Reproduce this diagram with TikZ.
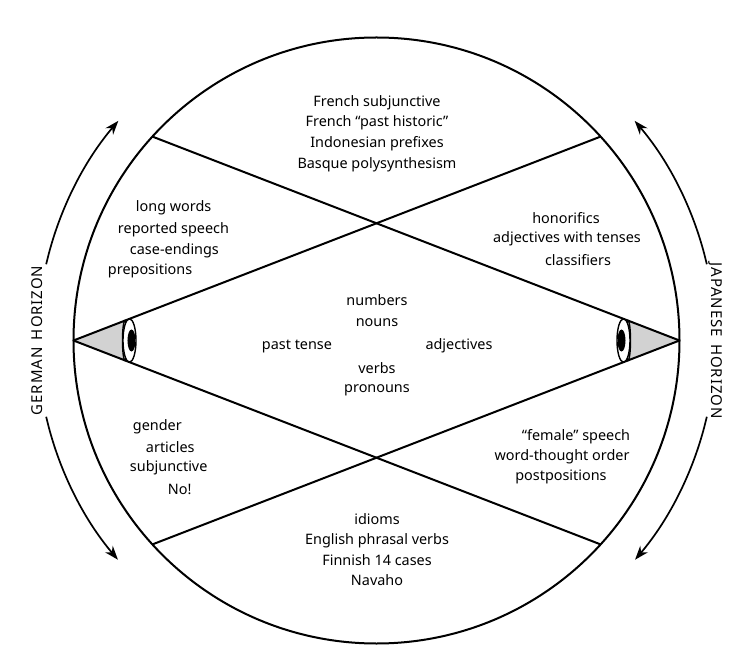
\documentclass[tikz,border=0pt]{standalone}
\usepackage{fontspec}
\setmainfont{Noto Sans}
\usetikzlibrary{arrows.meta}

\tikzset{
  word/.style={inner sep=0pt, font=\fontsize{14.4}{20.6}\selectfont},
  block/.style={word, align=center},
  horizon/.style={-{Stealth[length=14pt,width=10pt]}, line width=1.7pt},
  cone/.style={fill=gray!35},
}

\begin{document}
\begin{tikzpicture}[x=1pt, y=1pt, line width=2pt]
\useasboundingbox (-376.5,-328.5) rectangle (372.5,340.5);
\coordinate (eyeL) at (180:303);
\coordinate (eyeR) at (0:303);
\coordinate (ul) at (137.7:303);
\coordinate (ur) at (42.3:303);
\coordinate (ll) at (222.3:303);
\coordinate (lr) at (-42.3:303);
% cones of sight
\fill[cone] (eyeL) -- (-251.5,19.9) -- (-251.5,-19.9) -- cycle;
\fill[cone] (eyeR) -- (251.5,19.9) -- (251.5,-19.9) -- cycle;
\draw (0,0) circle (303);
\draw (eyeL) -- (ur);
\draw (eyeL) -- (lr);
\draw (eyeR) -- (ul);
\draw (eyeR) -- (ll);
% eyes
\draw[cone, line width=1.4pt] (-251.5,0) ellipse (2.5 and 19.9);
\draw[fill=white, line width=1.4pt] (-247,0) ellipse (6.5 and 21.7);
\fill (-245,0) ellipse (4 and 11);
\draw[cone, line width=1.4pt] (251.5,0) ellipse (2.5 and 19.9);
\draw[fill=white, line width=1.4pt] (247,0) ellipse (6.5 and 21.7);
\fill (245,0) ellipse (4 and 11);
% horizons
\draw[horizon] (167:339) arc[start angle=167, end angle=139.6, radius=339];
\draw[horizon] (193:339) arc[start angle=193, end angle=220.3, radius=339];
\draw[horizon] (13:339) arc[start angle=13, end angle=40.4, radius=339];
\draw[horizon] (-13:339) arc[start angle=-13, end angle=-40.3, radius=339];
\node[word, rotate=90] (german) at (-339,0) {\addfontfeature{LetterSpace=6}\fontsize{15}{18}\selectfont GERMAN\hspace{0.5em}HORIZON};
\node[word, rotate=-90] (japanese) at (339,0) {\addfontfeature{LetterSpace=6}\fontsize{15}{18}\selectfont JAPANESE\hspace{0.5em}HORIZON};
% top and bottom
\node[block] (french) at (0.5,207) {French subjunctive\\French “past historic”\\Indonesian prefixes\\Basque polysynthesism};
\node[block] (idioms) at (0.5,-209) {idioms\\English phrasal verbs\\Finnish 14 cases\\Navaho};
% middle
\node[word] (numbers) at (0.5,40.5) {numbers};
\node[word] (nouns) at (0.5,17.5) {nouns};
\node[word] (past) at (-79.5,-5.5) {past tense};
\node[word] (adj) at (82.5,-5.5) {adjectives};
\node[word] (verbs) at (0.5,-27.5) {verbs};
\node[word] (pronouns) at (0.5,-49.5) {pronouns};
% German side
\node[word, anchor=west] (long) at (-241.5,132.5) {long words};
\node[word, anchor=west] (reported) at (-259.5,111) {reported speech};
\node[word, anchor=west] (cases) at (-247.5,89.5) {case-endings};
\node[word, anchor=west] (prep) at (-269.5,69.5) {prepositions};
\node[word, anchor=west] (gender) at (-244.5,-86.5) {gender};
\node[word, anchor=west] (articles) at (-231.5,-106.5) {articles};
\node[word, anchor=west] (subj) at (-247.5,-127.5) {subjunctive};
\node[word, anchor=west] (no) at (-209.5,-148.5) {No!};
% Japanese side
\node[word] (honor) at (189.5,122.5) {honorifics};
\node[word] (tenses) at (190.5,101.5) {adjectives with tenses};
\node[word] (class) at (201.5,80.5) {classifiers};
\node[word] (female) at (199.5,-96.5) {“female” speech};
\node[word] (order) at (185.5,-116.5) {word-thought order};
\node[word] (post) at (184.5,-136.5) {postpositions};
\end{tikzpicture}
\end{document}
